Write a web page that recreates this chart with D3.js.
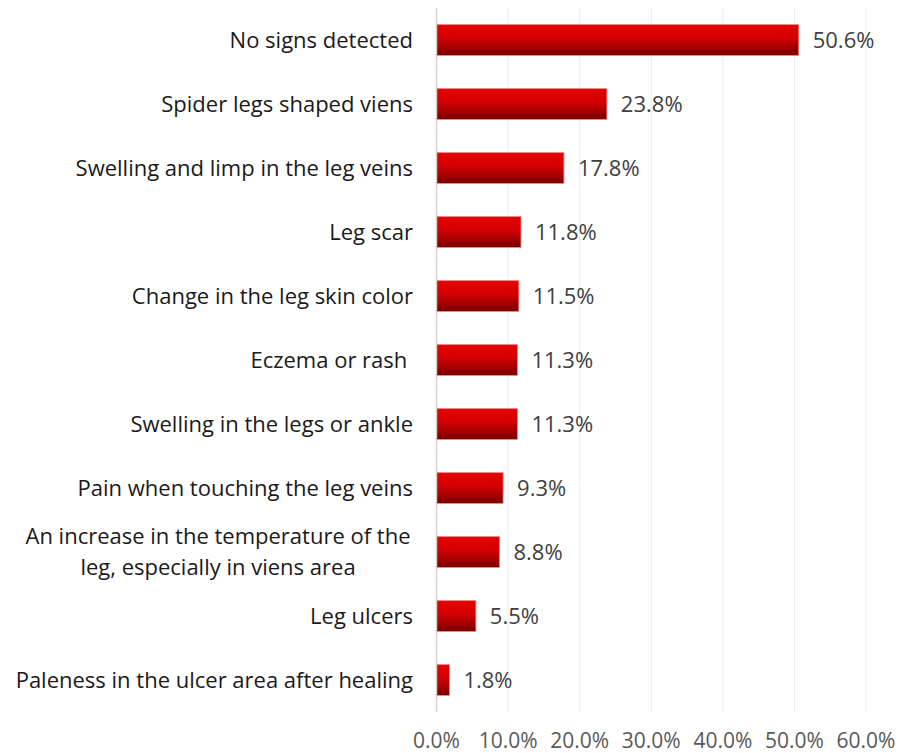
<!DOCTYPE html>
<html>
<head>
<meta charset="utf-8">
<script src="https://cdn.jsdelivr.net/npm/d3@7"></script>
<style>
  body { margin: 0; background: #fff; }
  text { font-family: "Open Sans", "Noto Sans", sans-serif; }
</style>
</head>
<body>
<div id="chart"></div>
<script>
// Symptom labels (top to bottom) and their shares in percent
const categories = [
  "No signs detected",
  "Spider legs shaped viens",
  "Swelling and limp in the leg veins",
  "Leg scar",
  "Change in the leg skin color",
  "Eczema or rash ",
  "Swelling in the legs or ankle",
  "Pain when touching the leg veins",
  "An increase in the temperature of the|leg, especially in viens area",
  "Leg ulcers",
  "Paleness in the ulcer area after healing"
];
const values = [50.6, 23.8, 17.8, 11.8, 11.5, 11.3, 11.3, 9.3, 8.8, 5.5, 1.8];
const tickValues = [0, 10, 20, 30, 40, 50, 60];

const width = 905, height = 753;
const margin = { top: 8, right: 39, bottom: 41, left: 436.5 };

const svg = d3.select("#chart").append("svg")
  .attr("width", width)
  .attr("height", height);

// gradient for bars: bright red on top, dark red at bottom
const grad = svg.append("defs").append("linearGradient")
  .attr("id", "barGrad")
  .attr("x1", 0).attr("y1", 0).attr("x2", 0).attr("y2", 1);
grad.append("stop").attr("offset", "0%").attr("stop-color", "#e40000");
grad.append("stop").attr("offset", "45%").attr("stop-color", "#d40000");
grad.append("stop").attr("offset", "100%").attr("stop-color", "#760000");

const x = d3.scaleLinear()
  .domain([0, 60])
  .range([margin.left, width - margin.right]);

const y = d3.scaleBand()
  .domain(categories)
  .range([margin.top, height - margin.bottom])
  .paddingInner(0.52)
  .paddingOuter(0.26);

// gridlines
svg.append("g")
  .selectAll("line")
  .data(tickValues.slice(1))
  .join("line")
  .attr("x1", d => x(d)).attr("x2", d => x(d))
  .attr("y1", margin.top).attr("y2", height - margin.bottom)
  .attr("stroke", "#ececec")
  .attr("stroke-width", 1);

// bars
svg.append("g")
  .selectAll("rect")
  .data(values)
  .join("rect")
  .attr("x", x(0))
  .attr("y", (d, i) => y(categories[i]))
  .attr("width", d => x(d) - x(0))
  .attr("height", y.bandwidth())
  .attr("fill", "url(#barGrad)")
  .attr("stroke", "#f08080")
  .attr("stroke-width", 0.8);

// vertical axis line at 0
svg.append("line")
  .attr("x1", x(0)).attr("x2", x(0))
  .attr("y1", margin.top).attr("y2", height - margin.bottom)
  .attr("stroke", "#d0d0d0")
  .attr("stroke-width", 1.5);

// value labels
svg.append("g")
  .selectAll("text")
  .data(values)
  .join("text")
  .attr("x", d => x(d) + 14)
  .attr("y", (d, i) => y(categories[i]) + y.bandwidth() / 2)
  .attr("dy", "0.35em")
  .style("font-size", "22px")
  .style("fill", "#404040")
  .text(d => d.toFixed(1) + "%");

// category labels (right aligned, the long one wrapped and centred)
const labels = svg.append("g")
  .selectAll("text")
  .data(categories)
  .join("text")
  .attr("text-anchor", d => d.includes("|") ? "middle" : "end")
  .attr("y", d => y(d) + y.bandwidth() / 2)
  .style("font-size", "22px")
  .style("fill", "#1a1a1a")
  .style("white-space", "pre");

labels.each(function(d) {
  const lines = d.split("|");
  const t = d3.select(this);
  lines.forEach((ln, k) => {
    t.append("tspan")
      .attr("x", lines.length > 1 ? 218 : 413)
      .attr("dy", k === 0 ? (0.35 - (lines.length - 1) * 0.7) + "em" : "1.4em")
      .text(ln);
  });
});

// bottom tick labels
svg.append("g")
  .selectAll("text")
  .data(tickValues)
  .join("text")
  .attr("x", d => x(d))
  .attr("y", 741)
  .attr("dy", "0.35em")
  .attr("text-anchor", "middle")
  .style("font-size", "21px")
  .style("fill", "#595959")
  .text(d => d.toFixed(1) + "%");
</script>
</body>
</html>
